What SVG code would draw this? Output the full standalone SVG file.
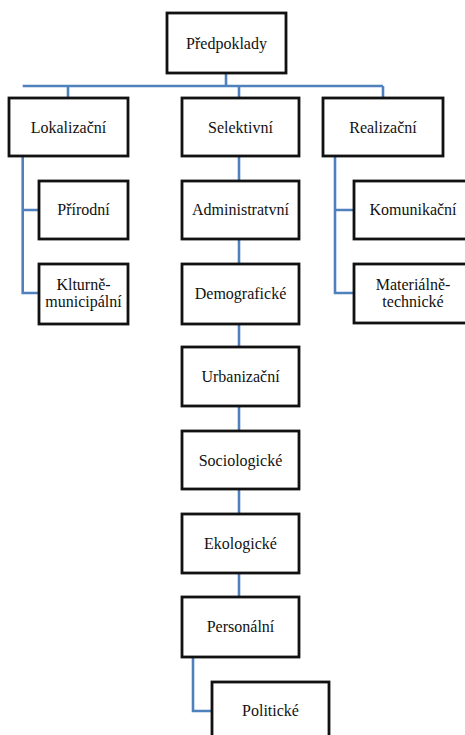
<svg xmlns="http://www.w3.org/2000/svg" width="465" height="735" viewBox="0 0 465 735">
<style>
.box{fill:#fff;stroke:#111;stroke-width:2.8}
.c{fill:none;stroke:#4f81bd;stroke-width:2.6}
</style>
<rect width="465" height="735" fill="#fff"/>
<g id="connectors">
<path class="c" d="M226 73 V86 M22.7 86 H383 M68 86 V98 M239 86 V98 M383 86 V98"/>
<path class="c" d="M22.7 156 V293 H39 M22.7 210 H39"/>
<path class="c" d="M335 156 V293 H354 M335 210 H354"/>
<path class="c" d="M239 156 V597"/>
<path class="c" d="M193 657 V711 H212"/>
</g>
<g font-family="Liberation Serif, Times New Roman, serif" font-size="16" fill="#111" text-anchor="middle">
<g id="predpoklady"><rect class="box" x="167" y="13" width="119" height="60"/><text x="226.5" y="48.5">Předpoklady</text></g>
<g id="lokalizacni"><rect class="box" x="9" y="98" width="119" height="58"/><text x="68.5" y="132.5">Lokalizační</text></g>
<g id="selektivni"><rect class="box" x="182" y="98" width="117" height="58"/><text x="240.5" y="132.5">Selektivní</text></g>
<g id="realizacni"><rect class="box" x="323" y="98" width="120" height="58"/><text x="383" y="132.5">Realizační</text></g>
<g id="prirodni"><rect class="box" x="39" y="181" width="89" height="58"/><text x="83.5" y="215">Přírodní</text></g>
<g id="klturne"><rect class="box" x="39" y="264" width="89" height="60"/><text x="83.5" y="290">Klturně-</text><text x="83.5" y="307">municipální</text></g>
<g id="administratvni"><rect class="box" x="182" y="181" width="117" height="58"/><text x="240.5" y="215">Administratvní</text></g>
<g id="demograficke"><rect class="box" x="182" y="264" width="117" height="60"/><text x="240.5" y="299">Demografické</text></g>
<g id="komunikacni"><rect class="box" x="354" y="181" width="120" height="58"/><text x="413" y="215">Komunikační</text></g>
<g id="materialne"><rect class="box" x="354" y="264" width="120" height="59"/><text x="413" y="290">Materiálně-</text><text x="413" y="307">technické</text></g>
<g id="urbanizacni"><rect class="box" x="182" y="347" width="117" height="59"/><text x="240.5" y="382">Urbanizační</text></g>
<g id="sociologicke"><rect class="box" x="182" y="431" width="117" height="58"/><text x="240.5" y="466">Sociologické</text></g>
<g id="ekologicke"><rect class="box" x="182" y="514" width="117" height="59"/><text x="240.5" y="549">Ekologické</text></g>
<g id="personalni"><rect class="box" x="182" y="597" width="117" height="60"/><text x="240.5" y="632">Personální</text></g>
<g id="politicke"><rect class="box" x="212" y="682" width="117" height="70"/><text x="270.5" y="716">Politické</text></g>
</g>
</svg>
